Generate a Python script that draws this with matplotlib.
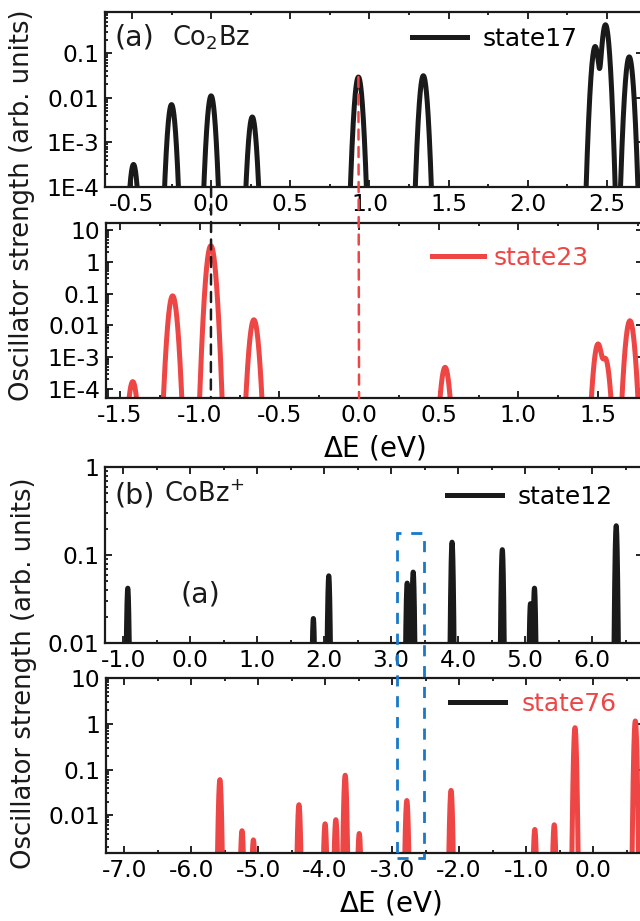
import numpy as np
import matplotlib
matplotlib.use("Agg")
import matplotlib.pyplot as plt
from matplotlib.patches import ConnectionPatch, Rectangle
from matplotlib.ticker import LogLocator, NullFormatter, MultipleLocator, FormatStrFormatter

plt.rcParams['font.family'] = ['DejaVu Sans']
plt.rcParams['mathtext.fontset'] = 'dejavusans'
plt.rcParams['axes.unicode_minus'] = False

RED = '#ee4545'
BLACK = '#1a1a1a'
BLUE = '#1a78c8'

# (a) Co2Bz : transition energies (eV) and oscillator strengths
state17_e = [-0.49, -0.25, 0.0, 0.26, 0.93, 1.34, 2.425, 2.49, 2.64]
state17_f = [3.2e-4, 7.0e-3, 0.011, 3.7e-3, 0.029, 0.031, 0.14, 0.43, 0.082]

state23_e = [-1.42, -1.17, -0.93, -0.66, 0.54, 1.50, 1.545, 1.70]
state23_f = [1.7e-4, 0.085, 3.2, 0.015, 4.8e-4, 2.6e-3, 9.0e-4, 0.014]

# (b) CoBz+
state12_e = [-0.93, 1.84, 2.07, 3.24, 3.33, 3.91, 4.66, 5.08, 5.14, 6.36]
state12_f = [0.042, 0.019, 0.058, 0.048, 0.064, 0.14, 0.115, 0.028, 0.042, 0.215]

state76_e = [-5.57, -5.24, -5.07, -4.39, -4.0, -3.84, -3.70, -3.49,
             -2.78, -2.12, -0.87, -0.58, -0.27, 0.63]
state76_f = [0.06, 4.6e-3, 2.9e-3, 0.017, 6.5e-3, 8.0e-3, 0.075, 4.0e-3,
             0.021, 0.035, 4.9e-3, 6.2e-3, 0.82, 1.15]

ytick_text = {1e-4: '1E-4', 1e-3: '1E-3', 0.01: '0.01', 0.1: '0.1', 1: '1', 10: '10'}


def broaden(x, e, f, sigma):
    y = np.zeros_like(x)
    for e0, f0 in zip(e, f):
        y += f0 * np.exp(-(x - e0) ** 2 / (2 * sigma ** 2))
    return y + 1e-30


def style(ax, xlim, ylim, yticks, xmajor, xminor):
    ax.set_yscale('log')
    ax.set_xlim(*xlim)
    ax.set_ylim(*ylim)
    ax.set_yticks(yticks, [ytick_text[t] for t in yticks])
    ax.yaxis.set_minor_locator(LogLocator(base=10, subs=np.arange(2, 10), numticks=20))
    ax.yaxis.set_minor_formatter(NullFormatter())
    ax.xaxis.set_major_locator(MultipleLocator(xmajor))
    ax.xaxis.set_minor_locator(MultipleLocator(xminor))
    ax.xaxis.set_major_formatter(FormatStrFormatter('%.1f'))
    ax.tick_params(which='both', direction='in', top=True, right=True, labelsize=16.8, width=1.2)
    ax.tick_params(which='major', length=5, pad=4)
    ax.tick_params(which='minor', length=2.5)
    for sp in ax.spines.values():
        sp.set_linewidth(1.6)
        sp.set_color(BLACK)


fig = plt.figure(figsize=(6.4, 9.21), dpi=100)
W, H = 640, 921
ax1 = fig.add_axes([105 / W, 1 - 187 / H, 538 / W, 175 / H])
ax2 = fig.add_axes([106 / W, 1 - 398 / H, 537 / W, 175.3 / H])
ax3 = fig.add_axes([105 / W, 1 - 643 / H, 538 / W, 176 / H])
ax4 = fig.add_axes([106 / W, 1 - 853 / H, 537 / W, 175 / H])

lw = 3.6
leg_fs = 18

# panel (a), state17
x1 = np.linspace(-0.8, 2.9, 8000)
ax1.plot(x1, broaden(x1, state17_e, state17_f, 0.015), color=BLACK, lw=lw, label='state17')
style(ax1, (-0.67, 2.727), (1e-4, 0.83), [1e-4, 1e-3, 0.01, 0.1], 0.5, 0.25)
ax1.legend(loc='center left', bbox_to_anchor=(0.571, 0.846), frameon=False, fontsize=leg_fs,
           handlelength=2.2, handletextpad=0.6, borderpad=0, borderaxespad=0)
ax1.text(0.018, 0.855, '(a)', transform=ax1.transAxes, fontsize=20.5, va='center', color=BLACK)
ax1.text(0.125, 0.85, r'Co$_\mathregular{2}$Bz', transform=ax1.transAxes, fontsize=18.5,
         va='center', color=BLACK)

# panel (a), state23
x2 = np.linspace(-1.8, 2.0, 8000)
ax2.plot(x2, broaden(x2, state23_e, state23_f, 0.015), color=RED, lw=lw, label='state23')
style(ax2, (-1.588, 1.782), (5.2e-5, 17), [1e-4, 1e-3, 0.01, 0.1, 1, 10], 0.5, 0.25)
ax2.legend(loc='center left', bbox_to_anchor=(0.607, 0.799), frameon=False, fontsize=leg_fs,
           handlelength=2.1, handletextpad=0.35, borderpad=0, borderaxespad=0,
           labelcolor=RED)
ax2.set_xlabel(r'$\Delta$E (eV)', fontsize=20)
ax2.xaxis.set_label_coords(0.5, -0.2)

# dashed guides linking the matching peaks
i_red = state17_e.index(0.93)
con_red = ConnectionPatch(xyA=(state17_e[i_red], state17_f[i_red]), coordsA=ax1.transData,
                          xyB=(0.0, ax2.get_ylim()[0]), coordsB=ax2.transData,
                          color=RED, lw=1.8, ls=(0, (4, 3)), zorder=5)
fig.add_artist(con_red)
con_blk = ConnectionPatch(xyA=(0.0, ax1.get_ylim()[0]), coordsA=ax1.transData,
                          xyB=(state23_e[2], ax2.get_ylim()[0]), coordsB=ax2.transData,
                          color=BLACK, lw=1.8, ls=(0, (4, 3)), zorder=5)
fig.add_artist(con_blk)

# panel (b), state12
x3 = np.linspace(-1.5, 7.0, 12000)
ax3.plot(x3, broaden(x3, state12_e, state12_f, 0.013), color=BLACK, lw=lw, label='state12')
style(ax3, (-1.27, 6.76), (0.01, 1), [0.01, 0.1, 1], 1.0, 0.5)
ax3.legend(loc='center left', bbox_to_anchor=(0.636, 0.83), frameon=False, fontsize=leg_fs,
           handlelength=2.2, handletextpad=0.6, borderpad=0, borderaxespad=0)
ax3.text(0.018, 0.84, '(b)', transform=ax3.transAxes, fontsize=20.5, va='center', color=BLACK)
ax3.text(0.11, 0.84, r'CoBz$^\mathregular{+}$', transform=ax3.transAxes, fontsize=18.5,
         va='center', color=BLACK)
ax3.text(0.177, 0.273, '(a)', transform=ax3.transAxes, fontsize=20.5, va='center', ha='center',
         color=BLACK)

# panel (b), state76
x4 = np.linspace(-7.5, 1.0, 12000)
ax4.plot(x4, broaden(x4, state76_e, state76_f, 0.013), color=RED, lw=lw)
style(ax4, (-7.27, 0.745), (1.5e-3, 10), [0.01, 0.1, 1, 10], 1.0, 0.5)
proxy = plt.Line2D([], [], color=BLACK, lw=lw)
ax4.legend([proxy], ['state76'], loc='center left', bbox_to_anchor=(0.641, 0.851), frameon=False,
           fontsize=leg_fs, handlelength=2.2, handletextpad=0.65, borderpad=0, borderaxespad=0,
           labelcolor=RED)
ax4.set_xlabel(r'$\Delta$E (eV)', fontsize=20)
ax4.xaxis.set_label_coords(0.53, -0.2)

# dashed box around the 3.1-3.5 eV region spanning both (b) panels
to_fig = fig.transFigure.inverted()
bx0, btop = to_fig.transform(ax3.transData.transform((3.09, 0.18)))
bx1, _ = to_fig.transform(ax3.transData.transform((3.49, 0.18)))
_, bbot = to_fig.transform(ax4.transAxes.transform((0, -0.029)))
fig.add_artist(Rectangle((bx0, bbot), bx1 - bx0, btop - bbot, transform=fig.transFigure,
                         fill=False, ec=BLUE, lw=2, ls=(0, (4, 3.5)), zorder=6))

fig.text(22 / W, 1 - 205 / H, 'Oscillator strength (arb. units)', rotation=90,
         fontsize=18.6, ha='center', va='center', color=BLACK)
fig.text(24 / W, 1 - 673 / H, 'Oscillator strength (arb. units)', rotation=90,
         fontsize=18.6, ha='center', va='center', color=BLACK)

fig.savefig('out.png', dpi=100)
